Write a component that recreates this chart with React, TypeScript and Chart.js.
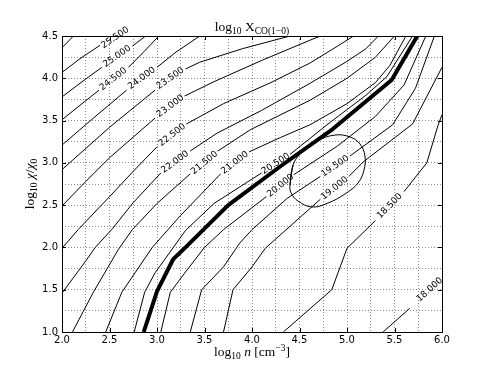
import React, { useEffect, useRef } from 'react';
import { Chart, registerables } from 'chart.js';

Chart.register(...registerables);

type P = [number, number];

// axes: x = log10 n [cm^-3], y = log10 chi/chi0
const xRange: P = [2.0, 6.0];
const yRange: P = [1.0, 4.5];
const gridStep = 0.25;
const labelStep = 0.5;

// contour polylines (segments split where inline labels sit)
const c26_0: P[][] = [[[2.0, 4.36], [2.12, 4.5]]];
const c25_5: P[][] = [[[2.0, 4.07], [2.2, 4.24], [2.4, 4.39]]];
const c25_0: P[][] = [
  [[2.0, 3.78], [2.2, 3.95], [2.42, 4.13]],
  [[2.74, 4.38], [2.88, 4.5]],
];
const c24_5: P[][] = [
  [[2.0, 3.51], [2.2, 3.69], [2.39, 3.86]],
  [[2.7, 4.13], [2.85, 4.3], [3.02, 4.5]],
];
const c24_0: P[][] = [
  [[2.0, 3.21], [2.3, 3.5], [2.68, 3.86]],
  [[3.0, 4.13], [3.2, 4.31], [3.45, 4.5]],
];
const c23_5: P[][] = [
  [[2.0, 2.92], [2.5, 3.42], [2.98, 3.86]],
  [[3.3, 4.11], [3.45, 4.19], [3.9, 4.35], [4.4, 4.5]],
];
const c23_0: P[][] = [
  [[2.0, 2.49], [2.25, 2.78], [2.5, 3.06], [2.98, 3.53]],
  [[3.29, 3.79], [3.6, 3.96], [4.1, 4.21], [4.61, 4.45], [4.72, 4.5]],
];
const c22_5: P[][] = [
  [[2.0, 1.99], [2.17, 2.21], [2.5, 2.6], [2.75, 2.9], [3.0, 3.19]],
  [[3.31, 3.46], [3.7, 3.7], [4.2, 3.95], [4.61, 4.18], [4.9, 4.38], [5.07, 4.5]],
];
const c22_0: P[][] = [
  [[2.0, 1.46], [2.25, 1.84], [2.35, 2.0], [2.53, 2.22], [2.75, 2.53], [3.04, 2.88]],
  [[3.35, 3.14], [3.63, 3.35], [4.1, 3.62], [4.61, 3.94], [5.0, 4.2], [5.2, 4.35], [5.33, 4.5]],
];
const c21_5: P[][] = [
  [[2.11, 1.0], [2.33, 1.47], [2.59, 1.97], [2.74, 2.21], [3.0, 2.52], [3.35, 2.87]],
  [[3.64, 3.14], [3.98, 3.39], [4.61, 3.74], [5.0, 4.0], [5.3, 4.25], [5.5, 4.5]],
];
const c21_0: P[][] = [
  [[2.46, 1.0], [2.63, 1.47], [2.95, 2.0], [3.25, 2.38], [3.67, 2.87]],
  [[3.97, 3.13], [4.3, 3.3], [4.61, 3.45], [5.0, 3.7], [5.3, 3.95], [5.45, 4.15], [5.62, 4.5]],
];
const c20_5: P[][] = [
  [[2.76, 1.0], [2.87, 1.47], [2.98, 1.7], [3.3, 2.2], [3.6, 2.52], [4.1, 2.88]],
  [[4.4, 3.1], [4.8, 3.46], [5.2, 3.8], [5.42, 4.02], [5.69, 4.5]],
];
const c20_0: P[][] = [
  [[3.04, 1.0], [3.14, 1.47], [3.3, 1.71], [3.5, 2.0], [3.7, 2.21], [4.15, 2.6]],
  [[4.44, 2.86], [4.9, 3.2], [5.3, 3.55], [5.6, 3.92], [5.83, 4.5]],
];
const c19_5: P[][] = [
  [[3.35, 1.0], [3.47, 1.5], [3.7, 1.77], [3.87, 2.05], [4.0, 2.21], [4.37, 2.58], [4.72, 2.84]],
  [[5.03, 3.08], [5.48, 3.45], [5.72, 3.88], [5.92, 4.5]],
];
const c19_0: P[][] = [
  [[3.7, 1.0], [3.74, 1.2], [3.8, 1.5], [4.0, 1.77], [4.14, 1.99], [4.63, 2.48], [4.72, 2.57]],
  [[5.02, 2.84], [5.17, 3.01], [5.69, 3.46], [6.0, 4.13]],
];
const c18_5: P[][] = [
  [[4.33, 1.0], [4.84, 1.5], [5.0, 1.99], [5.22, 2.23], [5.3, 2.32]],
  [[5.6, 2.66], [5.84, 3.0], [5.96, 3.45], [6.0, 3.57]],
];
const c18_0: P[][] = [[[5.38, 1.0], [5.66, 1.28]]];

const contourLevels = ['26.000', '25.500', '25.000', '24.500', '24.000', '23.500', '23.000', '22.500', '22.000', '21.500', '21.000', '20.500', '20.000', '19.500', '19.000', '18.500', '18.000'];
const contourSegs = [c26_0, c25_5, c25_0, c24_5, c24_0, c23_5, c23_0, c22_5, c22_0, c21_5, c21_0, c20_5, c20_0, c19_5, c19_0, c18_5, c18_0];

// highlighted (thick) contour
const thickLine: P[] = [[2.86, 1.0], [3.0, 1.48], [3.17, 1.86], [3.3, 2.0], [3.75, 2.5], [4.3, 2.96], [4.85, 3.4], [5.47, 3.98], [5.74, 4.5]];

// ellipse outline (traced)
const ellipsePts: P[] = [
  [4.4, 2.738], [4.432, 2.975], [4.526, 3.128], [4.684, 3.258], [4.874, 3.329], [5.032, 3.306],
  [5.137, 3.223], [5.189, 3.081], [5.179, 2.916], [5.116, 2.762], [4.979, 2.632], [4.8, 2.525],
  [4.632, 2.478], [4.484, 2.549], [4.411, 2.644], [4.4, 2.738], [4.432, 2.975],
];

// inline contour labels [text, x, y]
const contourLabels: [string, number, number][] = [
  ['25.500', 2.56, 4.48],
  ['25.000', 2.58, 4.26],
  ['24.500', 2.54, 3.99],
  ['24.000', 2.84, 4.0],
  ['23.500', 3.14, 4.0],
  ['23.000', 3.14, 3.67],
  ['22.500', 3.16, 3.33],
  ['22.000', 3.19, 3.01],
  ['21.500', 3.5, 3.0],
  ['21.000', 3.82, 3.0],
  ['20.500', 4.25, 2.99],
  ['20.000', 4.3, 2.73],
  ['19.500', 4.875, 2.96],
  ['19.000', 4.87, 2.7],
  ['18.500', 5.45, 2.49],
  ['18.000', 5.87, 1.5],
];

const SERIF = '"Liberation Serif", "Times New Roman", serif';

type Part = { t: string; size: number; italic?: boolean; dy?: number };

function richWidth(ctx: CanvasRenderingContext2D, parts: Part[]) {
  let w = 0;
  for (const p of parts) {
    ctx.font = `${p.italic ? 'italic ' : ''}${p.size}px ${SERIF}`;
    w += ctx.measureText(p.t).width;
  }
  return w;
}
function drawRich(ctx: CanvasRenderingContext2D, parts: Part[], cx: number, baseY: number) {
  const w = richWidth(ctx, parts);
  let x = cx - w / 2;
  ctx.textAlign = 'left';
  ctx.textBaseline = 'alphabetic';
  for (const p of parts) {
    ctx.font = `${p.italic ? 'italic ' : ''}${p.size}px ${SERIF}`;
    ctx.fillText(p.t, x, baseY + (p.dy || 0));
    x += ctx.measureText(p.t).width;
  }
}

const titleParts: Part[] = [
  { t: 'log', size: 13.5 }, { t: '10', size: 9.5, dy: 3 }, { t: ' X', size: 13.5 }, { t: 'CO(1\u22120)', size: 9.5, dy: 3 },
];
const xTitleParts: Part[] = [
  { t: 'log', size: 13.5 }, { t: '10', size: 9.5, dy: 3 }, { t: ' ', size: 13.5 }, { t: 'n', size: 13.5, italic: true },
  { t: ' [cm', size: 13.5 }, { t: '\u22123', size: 9.5, dy: -5 }, { t: ']', size: 13.5 },
];
const yTitleParts: Part[] = [
  { t: 'log', size: 13.5 }, { t: '10', size: 9.5, dy: 3 }, { t: ' ', size: 13.5 }, { t: '\u03c7', size: 13.5, italic: true },
  { t: '/', size: 13.5 }, { t: '\u03c7', size: 13.5, italic: true }, { t: '0', size: 9.5, dy: 3 },
];

const decorPlugin = {
  id: 'decor',
  afterDatasetsDraw(chart: any) {
    const { ctx, scales } = chart;
    const xs = scales.x, ys = scales.y;
    ctx.save();
    ctx.fillStyle = '#000';
    ctx.font = '9px "DejaVu Sans"';
    ctx.textAlign = 'center';
    ctx.textBaseline = 'middle';
    for (const [text, lx, ly] of contourLabels) {
      const idx = contourLevels.indexOf(text);
      const pts: { x: number; y: number }[] = [];
      contourSegs[idx].forEach((seg) => seg.forEach(([a, b]) => pts.push({ x: xs.getPixelForValue(a), y: ys.getPixelForValue(b) })));
      const px = xs.getPixelForValue(lx), py = ys.getPixelForValue(ly);
      const sorted = pts.map((p) => ({ p, d: Math.hypot(p.x - px, p.y - py) })).sort((a, b) => a.d - b.d);
      const p1 = sorted[0].p, p2 = sorted[1].p;
      let ang = Math.atan2(p2.y - p1.y, p2.x - p1.x);
      if (ang > Math.PI / 2) ang -= Math.PI;
      if (ang < -Math.PI / 2) ang += Math.PI;
      ctx.save();
      ctx.translate(px, py);
      ctx.rotate(ang);
      ctx.fillText(text, 0, 0);
      ctx.restore();
    }
    ctx.restore();
  },
  afterDraw(chart: any) {
    const { ctx, chartArea: a, scales } = chart;
    const xs = scales.x, ys = scales.y;
    ctx.save();
    ctx.strokeStyle = '#000';
    ctx.lineWidth = 1;
    ctx.strokeRect(Math.round(a.left) + 0.5, Math.round(a.top) + 0.5, Math.round(a.right - a.left), Math.round(a.bottom - a.top));
    ctx.beginPath();
    for (let v = xRange[0]; v <= xRange[1] + 1e-9; v += labelStep) {
      const px = Math.round(xs.getPixelForValue(v)) + 0.5;
      ctx.moveTo(px, a.bottom); ctx.lineTo(px, a.bottom - 4);
      ctx.moveTo(px, a.top); ctx.lineTo(px, a.top + 4);
    }
    for (let v = yRange[0]; v <= yRange[1] + 1e-9; v += labelStep) {
      const py = Math.round(ys.getPixelForValue(v)) + 0.5;
      ctx.moveTo(a.left, py); ctx.lineTo(a.left + 4, py);
      ctx.moveTo(a.right, py); ctx.lineTo(a.right - 4, py);
    }
    ctx.stroke();
    ctx.fillStyle = '#000';
    const cx = (a.left + a.right) / 2;
    drawRich(ctx, titleParts, cx, a.top - 5);
    drawRich(ctx, xTitleParts, cx, a.bottom + 24);
    ctx.save();
    ctx.translate(a.left - 28, (a.top + a.bottom) / 2);
    ctx.rotate(-Math.PI / 2);
    drawRich(ctx, yTitleParts, 0, 0);
    ctx.restore();
    ctx.restore();
  },
};

const tickCb = (v: any) => {
  const n = Number(v);
  return Math.abs(n / labelStep - Math.round(n / labelStep)) < 1e-6 ? n.toFixed(1) : '';
};

export default function App() {
  const ref = useRef<HTMLCanvasElement>(null);
  useEffect(() => {
    if (!ref.current) return;
    const datasets: any[] = [];
    contourSegs.forEach((segs) =>
      segs.forEach((seg) =>
        datasets.push({
          data: seg.map(([x, y]) => ({ x, y })),
          showLine: true, borderColor: '#000', borderWidth: 1, pointRadius: 0, tension: 0, clip: 0,
        })
      )
    );
    datasets.push({
      data: thickLine.map(([x, y]) => ({ x, y })),
      showLine: true, borderColor: '#000', borderWidth: 4, pointRadius: 0, tension: 0, clip: 0,
      borderJoinStyle: 'round',
    });
    datasets.push({
      data: ellipsePts.map(([x, y]) => ({ x, y })),
      showLine: true, borderColor: '#000', borderWidth: 1, pointRadius: 0, tension: 0.4, clip: 0,
    });
    const axisCommon = {
      type: 'linear' as const,
      grid: { color: '#8a8a8a', lineWidth: 1, drawTicks: false },
      border: { display: false, dash: [1, 2] },
    };
    const chart = new Chart(ref.current, {
      type: 'scatter',
      data: { datasets },
      options: {
        animation: false,
        responsive: false,
        events: [],
        layout: { padding: { top: 36, right: 49, left: 0, bottom: 0 } },
        plugins: { legend: { display: false }, tooltip: { enabled: false }, title: { display: false } },
        scales: {
          x: {
            ...axisCommon,
            min: xRange[0], max: xRange[1],
            afterFit: (s: any) => { s.height = 38; },
            ticks: { stepSize: gridStep, autoSkip: false, maxRotation: 0, padding: 2, color: '#000', font: { family: 'DejaVu Sans', size: 10 }, callback: tickCb },
          },
          y: {
            ...axisCommon,
            min: yRange[0], max: yRange[1],
            afterFit: (s: any) => { s.width = 62; },
            ticks: { stepSize: gridStep, autoSkip: false, padding: 4, color: '#000', font: { family: 'DejaVu Sans', size: 10 }, callback: tickCb },
          },
        },
      } as any,
      plugins: [decorPlugin],
    });
    return () => chart.destroy();
  }, []);
  return (
    <div style={{ position: 'absolute', left: 0, top: 0, width: 491, height: 370, background: '#fff' }}>
      <canvas ref={ref} width={491} height={370} style={{ width: 491, height: 370 }} />
    </div>
  );
}
